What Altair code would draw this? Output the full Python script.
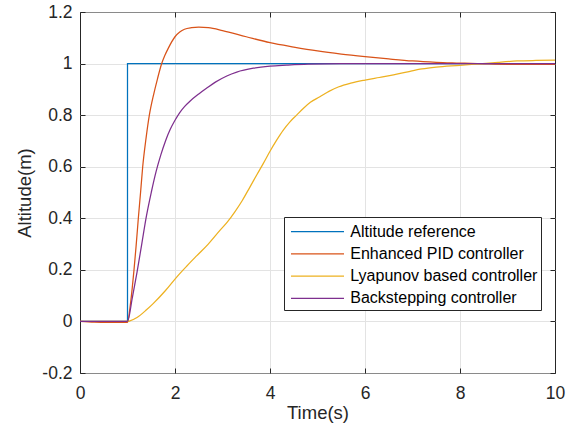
import altair as alt
import pandas as pd

# ---- data ----
series_names = ["Altitude reference", "Enhanced PID controller",
                "Lyapunov based controller", "Backstepping controller"]
series_colors = ["#0072BD", "#D95319", "#EDB120", "#7E2F8E"]

ref_t = [0, 1, 1, 10]
ref_v = [0, 0, 1, 1]

pid_t = [0, 0.3, 0.6, 1.0, 1.05, 1.1, 1.137, 1.18, 1.228, 1.275, 1.32, 1.39, 1.46,
         1.55, 1.63, 1.72, 1.79, 1.86, 2.0, 2.1, 2.2, 2.35, 2.5, 2.7, 3.0, 3.5,
         4.0, 4.5, 5.0, 5.5, 6.0, 6.5, 7.0, 7.5, 8.0, 8.5, 9.0, 9.5, 10.0]
pid_v = [0, -0.003, -0.004, -0.004, 0.05, 0.13, 0.2, 0.29, 0.4, 0.5, 0.6, 0.71, 0.8,
         0.88, 0.94, 1.0, 1.033, 1.06, 1.104, 1.122, 1.133, 1.139, 1.141, 1.139, 1.128, 1.104,
         1.081, 1.064, 1.049, 1.037, 1.027, 1.018, 1.010, 1.005, 1.002, 0.999, 0.997, 0.997, 0.997]

lyap_t = [0, 1.0, 1.05, 1.2, 1.4, 1.54, 1.8, 2.04, 2.25, 2.46, 2.7, 2.95, 3.1, 3.26,
          3.42, 3.58, 3.72, 3.86, 4.0, 4.14, 4.28, 4.42, 4.56, 4.7, 4.85, 5.05, 5.25,
          5.45, 5.7, 6.0, 6.3, 6.6, 6.9, 7.2, 7.5, 8.0, 8.4, 8.8, 9.2, 9.6, 10.0]
lyap_v = [0, 0, 0.002, 0.015, 0.045, 0.069, 0.12, 0.173, 0.215, 0.255, 0.30, 0.354, 0.385, 0.425,
          0.47, 0.522, 0.568, 0.613, 0.66, 0.703, 0.742, 0.774, 0.80, 0.826, 0.85, 0.871, 0.893,
          0.91, 0.924, 0.936, 0.946, 0.956, 0.968, 0.979, 0.986, 0.993, 0.999, 1.005, 1.01, 1.012, 1.013]

back_t = [0, 1.0, 1.1, 1.2, 1.3, 1.4, 1.5, 1.6, 1.7, 1.8, 1.9, 2.0, 2.1, 2.2, 2.32, 2.5,
          2.67, 2.85, 3.09, 3.3, 3.65, 4.0, 4.35, 4.8, 5.5, 10.0]
back_v = [0, 0, 0.09, 0.19, 0.3, 0.41, 0.5, 0.58, 0.645, 0.70, 0.745, 0.78, 0.81, 0.833, 0.855, 0.882,
          0.905, 0.928, 0.952, 0.967, 0.982, 0.99, 0.994, 0.998, 1.0, 1.0]

x_ticks = [0, 2, 4, 6, 8, 10]
y_ticks = [-0.2, 0, 0.2, 0.4, 0.6, 0.8, 1, 1.2]

def table(names, ts_list, vs_list):
    rows = []
    for name, ts, vs in zip(names, ts_list, vs_list):
        for i, (t, v) in enumerate(zip(ts, vs)):
            rows.append({"t": t, "v": v, "series": name, "i": i})
    return pd.DataFrame(rows)

df_ref = table(series_names[:1], [ref_t], [ref_v])
df_ctl = table(series_names[1:], [pid_t, lyap_t, back_t], [pid_v, lyap_v, back_v])

FONT = "Liberation Sans"
TXT = "#262626"
LW = 1.25

xscale = alt.Scale(domain=[0, 10], nice=False, zero=False)
yscale = alt.Scale(domain=[-0.2, 1.2], nice=False, zero=False)

color = alt.Color("series:N",
                  scale=alt.Scale(domain=series_names, range=series_colors),
                  legend=alt.Legend(title=None, orient="none", legendX=204, legendY=205,
                                    symbolType="M-2.65,0H2.65", symbolSize=400,
                                    symbolStrokeWidth=LW, symbolOffset=19,
                                    labelFontSize=16,
                                    labelFont=FONT, labelColor="#000000",
                                    labelLimit=400, labelOffset=21.8, rowPadding=3.3,
                                    padding=3.5, strokeColor=TXT, fillColor="white",
                                    cornerRadius=0))

x_main = alt.X("t:Q", scale=xscale,
               axis=alt.Axis(values=x_ticks, title="Time(s)", orient="bottom",
                             offset=-5, tickSize=5, tickColor=TXT, domain=False,
                             grid=True, gridColor={"condition": {"test": "datum.value == 0 || datum.value == 10", "value": TXT}, "value": "#e3e3e3"},
                             labelPadding=11, titlePadding=2,
                             labelFontSize=17.5, titleFontSize=18.5,
                             labelColor=TXT, titleColor=TXT, labelFont=FONT, titleFont=FONT,
                             titleFontWeight="normal", labelFlush=False))
y_main = alt.Y("v:Q", scale=yscale,
               axis=alt.Axis(values=y_ticks, title="Altitude(m)", orient="left",
                             offset=-5, tickSize=5, tickColor=TXT, domain=False,
                             grid=True, gridColor={"condition": {"test": "datum.value == -0.2 || datum.value == 1.2", "value": "#8a8a8a"}, "value": "#e3e3e3"},
                             labelExpr="toString(round(datum.value*10)/10)",
                             labelPadding=8, titlePadding=7,
                             labelFontSize=17.5, titleFontSize=18.5,
                             labelColor=TXT, titleColor=TXT, labelFont=FONT, titleFont=FONT,
                             titleFontWeight="normal", labelFlush=False))

ref_line = alt.Chart(df_ref).mark_line(strokeWidth=LW, interpolate="linear").encode(
    x=x_main, y=y_main, color=color, order="i:Q",
)

ctl_lines = alt.Chart(df_ctl).mark_line(strokeWidth=LW, interpolate="monotone").encode(
    x=alt.X("t:Q", scale=xscale, axis=None),
    y=alt.Y("v:Q", scale=yscale, axis=None),
    color=color, order="i:Q",
)

frame = alt.Chart(df_ref).mark_line(opacity=0).encode(
    x=alt.X("t:Q", scale=xscale,
            axis=alt.Axis(values=x_ticks, title=None, orient="top", offset=-5,
                          tickSize=5, tickColor=TXT, domain=False, labels=False, grid=False)),
    y=alt.Y("v:Q", scale=yscale,
            axis=alt.Axis(values=y_ticks, title=None, orient="right", offset=-5,
                          tickSize=5, tickColor=TXT, domain=False, labels=False, grid=False)),
    order="i:Q",
)

chart = alt.layer(ref_line, ctl_lines, frame).resolve_axis(x="independent", y="independent").properties(
    width=475, height=361,
    autosize=alt.AutoSizeParams(type="none"),
    padding={"left": 80, "top": 12, "right": 16, "bottom": 59},
    background="white",
).configure_view(stroke=None)

chart.save("out.html", embed_options={"renderer": "svg", "actions": False})
